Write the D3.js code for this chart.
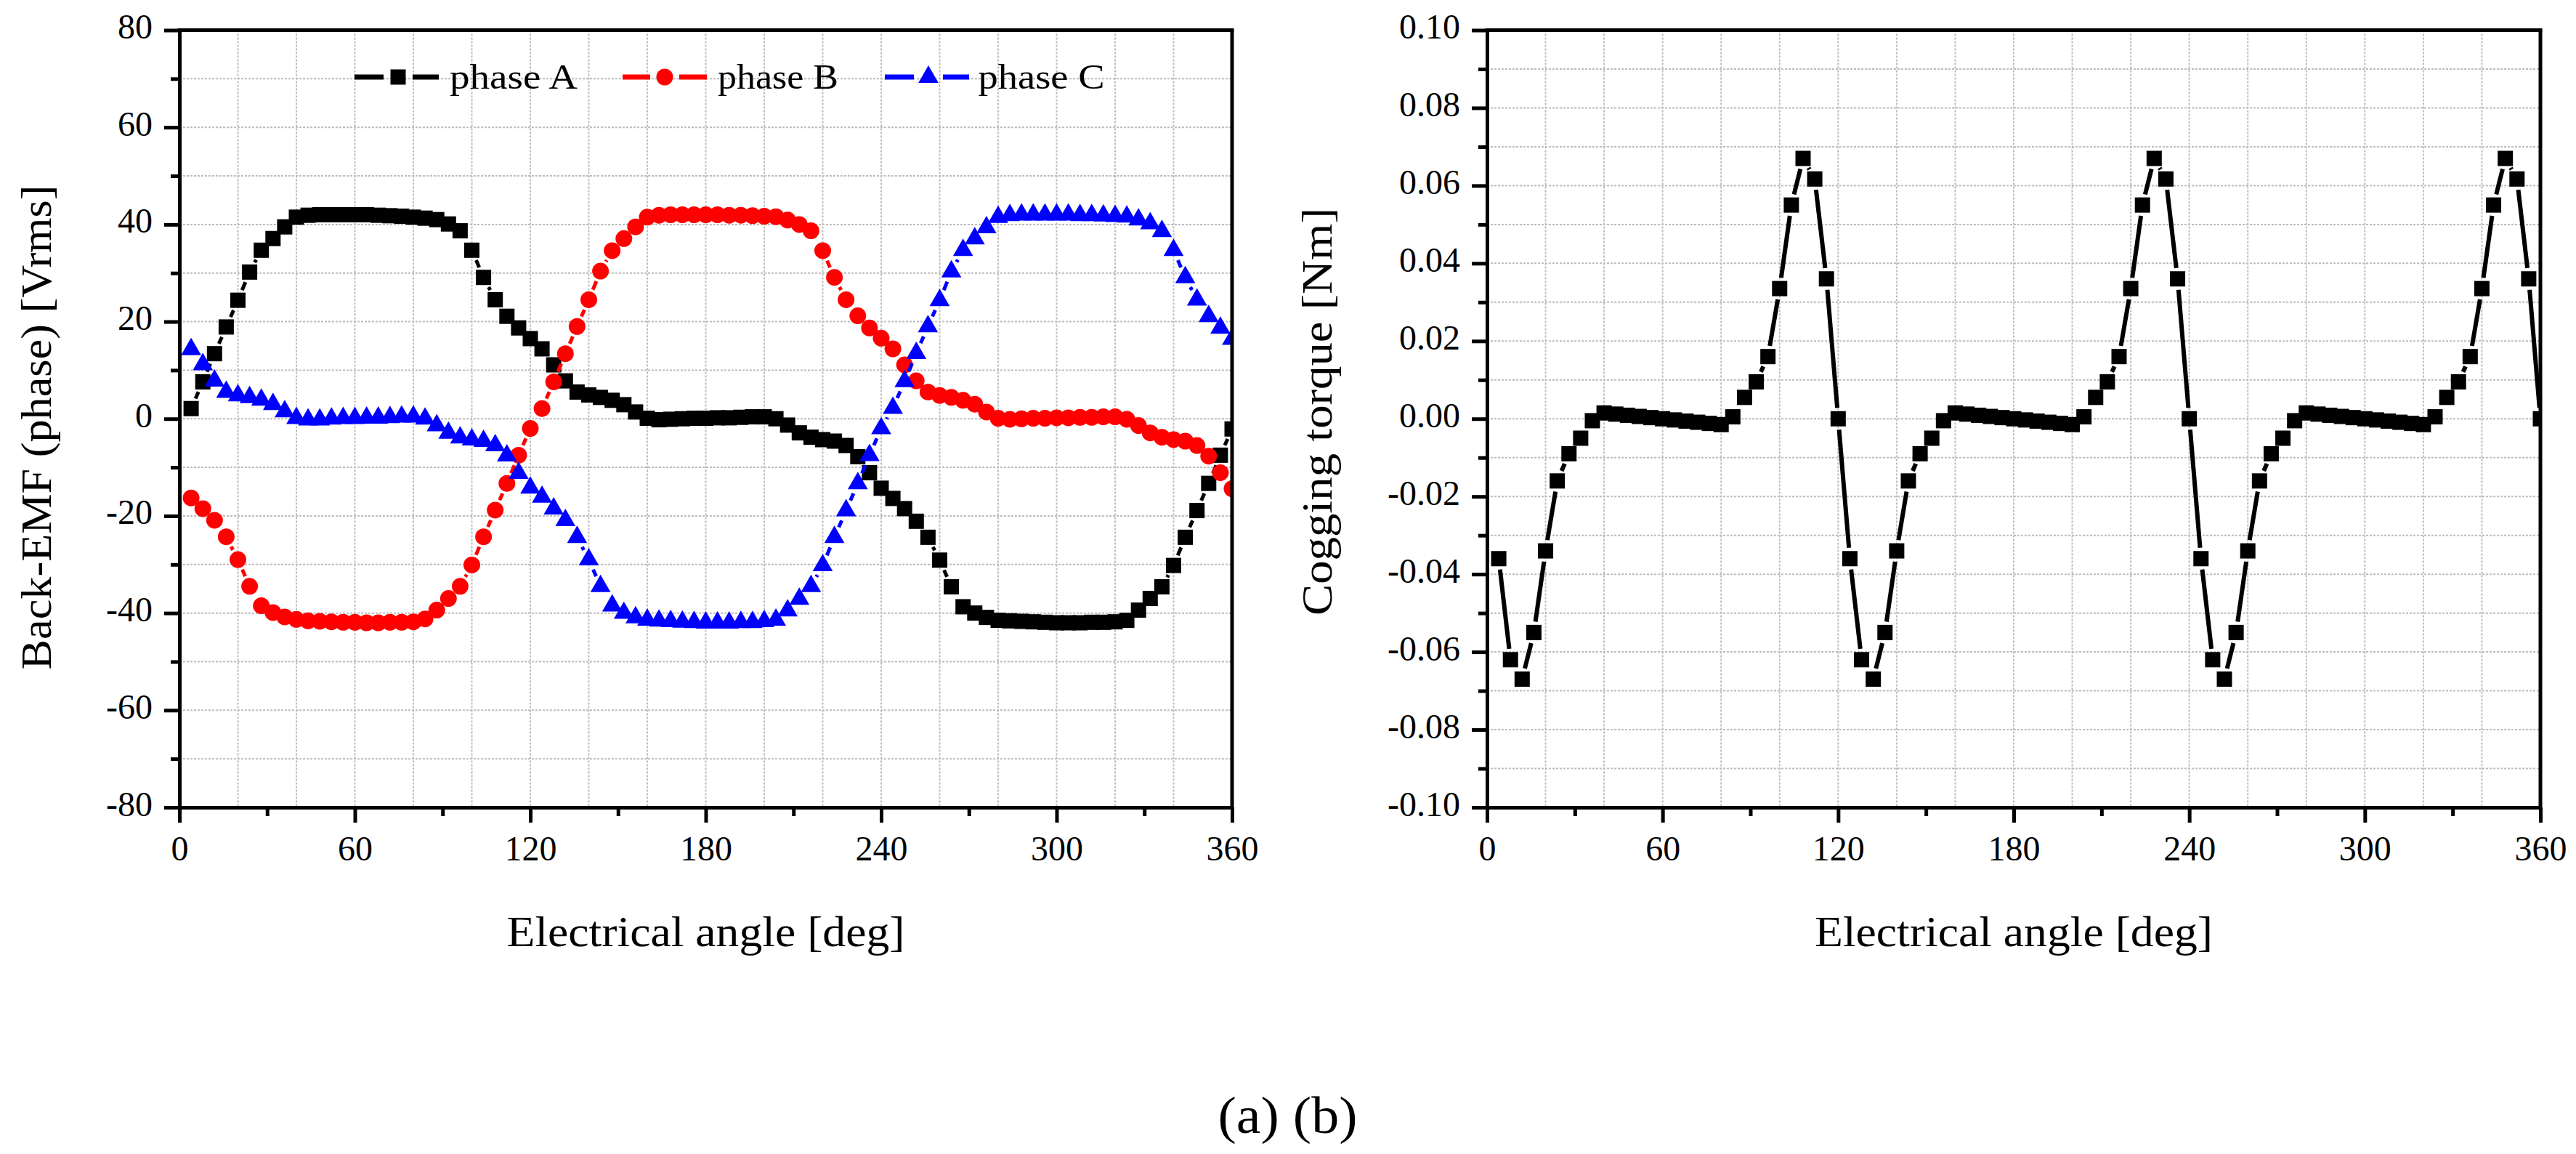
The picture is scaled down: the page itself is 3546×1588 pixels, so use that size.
<!DOCTYPE html>
<html>
<head>
<meta charset="utf-8">
<script src="https://cdn.jsdelivr.net/npm/d3@7"></script>
<style>
html,body{margin:0;padding:0;background:#ffffff;}
svg{display:block;}
</style>
</head>
<body>
<svg id="chart" width="3546" height="1588"></svg>
<script>
// ---------------- DATA ----------------
const angleDeg = [4,8,12,16,20,24,28,32,36,40,44,48,52,56,60,64,68,72,76,80,84,88,92,96,100,104,108,112,116,120,
  124,128,132,136,140,144,148,152,156,160,164,168,172,176,180,184,188,192,196,200,204,208,212,216,220,224,228,232,236,240,
  244,248,252,256,260,264,268,272,276,280,284,288,292,296,300,304,308,312,316,320,324,328,332,336,340,344,348,352,356,360];

const phaseA = [2.1,7.6,13.4,18.9,24.4,30.2,34.7,37.1,39.5,41.5,41.9,42.0,42.0,42.0,42.0,42.0,41.9,41.8,41.7,41.5,41.3,41.0,40.1,38.7,34.7,29.1,24.5,21.1,18.7,16.5,
  14.4,11.1,7.8,5.5,4.9,4.4,3.8,2.9,1.4,0.1,-0.2,-0.1,0.0,0.1,0.1,0.2,0.2,0.3,0.4,0.4,0.0,-1.3,-2.9,-3.8,-4.3,-4.6,-5.5,-7.8,-11.1,-14.3,
  -16.4,-18.5,-21.1,-24.4,-29.1,-34.6,-38.7,-40.0,-40.9,-41.5,-41.6,-41.7,-41.8,-41.9,-42.0,-42.0,-42.0,-41.9,-41.9,-41.8,-41.5,-39.4,-37.0,-34.6,-30.2,-24.4,-18.9,-13.3,-7.5,-2.1];

const phaseB = [-16.3,-18.5,-20.9,-24.3,-29.0,-34.5,-38.5,-39.9,-40.8,-41.3,-41.6,-41.7,-41.8,-41.9,-41.9,-42.0,-42.0,-41.9,-41.9,-41.8,-41.2,-39.4,-37.0,-34.5,-30.1,-24.3,-18.8,-13.3,-7.5,-2.0,
  2.1,7.6,13.4,19.0,24.5,30.4,34.6,37.1,39.5,41.5,41.9,42.0,42.0,42.0,42.0,42.0,41.9,41.9,41.8,41.7,41.6,40.9,40.0,38.7,34.6,29.1,24.5,21.2,18.7,16.6,
  14.4,11.1,7.8,5.5,4.8,4.4,3.8,3.0,1.4,0.1,-0.1,0.0,0.1,0.1,0.2,0.2,0.3,0.3,0.4,0.4,-0.1,-1.4,-2.9,-3.8,-4.3,-4.6,-5.5,-7.7,-11.1,-14.4];

const phaseC = [14.3,11.2,7.8,5.5,4.8,4.4,3.9,3.0,1.5,0.1,-0.2,-0.2,0.0,0.1,0.1,0.2,0.2,0.3,0.4,0.4,0.0,-1.4,-2.9,-3.9,-4.3,-4.6,-5.5,-7.6,-11.2,-14.2,
  -16.1,-18.5,-20.9,-24.4,-29.0,-34.5,-38.5,-40.0,-40.9,-41.4,-41.6,-41.7,-41.8,-41.9,-42.0,-42.0,-42.0,-41.9,-41.9,-41.7,-41.4,-39.5,-37.1,-34.5,-30.2,-24.4,-18.9,-13.3,-7.5,-2.0,
  2.2,7.7,13.5,19.0,24.4,30.3,34.7,37.1,39.4,41.5,41.9,42.0,42.0,42.0,42.0,42.0,41.9,41.9,41.8,41.7,41.6,41.0,40.2,38.6,34.7,29.1,24.5,21.1,18.7,16.4];

const cogging = [-0.036,-0.062,-0.067,-0.055,-0.034,-0.016,-0.009,-0.005,-0.0005,0.0015,0.0012,0.0009,0.0006,0.0003,0.0,-0.0003,-0.0006,-0.0009,-0.0012,-0.0015,0.0005,0.0055,0.0095,0.016,0.0335,0.055,0.067,0.0617,0.036,0.0,
  -0.036,-0.062,-0.067,-0.055,-0.034,-0.016,-0.009,-0.005,-0.0005,0.0015,0.0012,0.0009,0.0006,0.0003,0.0,-0.0003,-0.0006,-0.0009,-0.0012,-0.0015,0.0005,0.0055,0.0095,0.016,0.0335,0.055,0.067,0.0617,0.036,0.0,
  -0.036,-0.062,-0.067,-0.055,-0.034,-0.016,-0.009,-0.005,-0.0005,0.0015,0.0012,0.0009,0.0006,0.0003,0.0,-0.0003,-0.0006,-0.0009,-0.0012,-0.0015,0.0005,0.0055,0.0095,0.016,0.0335,0.055,0.067,0.0617,0.036,0.0];

const xTickValues = [0,60,120,180,240,300,360];
const xMinorValues = [30,90,150,210,270,330];
const emfTickValues = [-80,-60,-40,-20,0,20,40,60,80];
const emfMinorValues = [-70,-50,-30,-10,10,30,50,70];
const torqueTickValues = [-0.10,-0.08,-0.06,-0.04,-0.02,0.00,0.02,0.04,0.06,0.08,0.10];
const torqueMinorValues = [-0.09,-0.07,-0.05,-0.03,-0.01,0.01,0.03,0.05,0.07,0.09];
const legendLabels = ["phase A","phase B","phase C"];
const xTitle = "Electrical angle [deg]";
const emfTitle = "Back-EMF (phase) [Vrms]";
const torqueTitle = "Cogging torque [Nm]";
const caption = "(a) (b)";

// ---------------- DRAWING ----------------
const FONT = "'Liberation Serif','Times New Roman',serif";
const svg = d3.select("#chart");
const GRID = "#bdbdbd";

function fmtTorque(d){ return (d < -1e-9 ? "-" : "") + Math.abs(d).toFixed(2); }
function fmtEmf(d){ return String(d); }

function makePanel(cfg){
  const g = svg.append("g");
  const x = d3.scaleLinear().domain([0,360]).range([cfg.left, cfg.right]);
  const y = d3.scaleLinear().domain(cfg.yDomain).range([cfg.bottom, cfg.top]);

  // grid
  const gx = x.ticks(12), gy = y.ticks(cfg.gridCount);
  g.append("g").selectAll("line").data(gx).join("line")
    .attr("x1", d=>x(d)).attr("x2", d=>x(d)).attr("y1", cfg.top).attr("y2", cfg.bottom)
    .attr("stroke", GRID).attr("stroke-width", 2).attr("stroke-dasharray", "3,2");
  g.append("g").selectAll("line").data(gy).join("line")
    .attr("x1", cfg.left).attr("x2", cfg.right).attr("y1", d=>y(d)).attr("y2", d=>y(d))
    .attr("stroke", GRID).attr("stroke-width", 2).attr("stroke-dasharray", "3,2");

  // clip
  const clipId = "clip" + cfg.id;
  svg.append("defs").append("clipPath").attr("id", clipId).append("rect")
    .attr("x", cfg.left).attr("y", cfg.top).attr("width", cfg.right-cfg.left).attr("height", cfg.bottom-cfg.top);
  const plot = g.append("g").attr("clip-path", `url(#${clipId})`);

  cfg.series.forEach(s => {
    const pts = angleDeg.map((a,i)=>[x(a), y(s.values[i])]);
    const segs = [];
    for (let i=0;i<pts.length-1;i++){
      const [x1,y1]=pts[i], [x2,y2]=pts[i+1];
      const L = Math.hypot(x2-x1,y2-y1);
      if (L > 2*s.gap + 2){
        const ux=(x2-x1)/L, uy=(y2-y1)/L;
        segs.push([x1+ux*s.gap, y1+uy*s.gap, x2-ux*s.gap, y2-uy*s.gap]);
      }
    }
    plot.append("g").selectAll("line").data(segs).join("line")
      .attr("x1",d=>d[0]).attr("y1",d=>d[1]).attr("x2",d=>d[2]).attr("y2",d=>d[3])
      .attr("stroke", s.color).attr("stroke-width", s.lineWidth).attr("stroke-linecap","butt");
    plot.append("g").selectAll("path").data(pts).join("path")
      .attr("transform", d=>`translate(${d[0]},${d[1]})`)
      .attr("d", d3.symbol().type(s.symbol).size(s.size)())
      .attr("fill", s.color);
  });

  // axes
  const ax = d3.axisBottom(x).tickValues(xTickValues).tickSize(21).tickSizeOuter(0).tickFormat(d=>String(d));
  const axM = d3.axisBottom(x).tickValues(xMinorValues).tickSize(12).tickSizeOuter(0).tickFormat("");
  const ay = d3.axisLeft(y).tickValues(cfg.yTicks).tickSize(21).tickSizeOuter(0).tickFormat(cfg.fmt);
  const ayM = d3.axisLeft(y).tickValues(cfg.yMinor).tickSize(12).tickSizeOuter(0).tickFormat("");

  function styleAxis(sel){
    sel.selectAll("path.domain").attr("stroke","#000").attr("stroke-width",5);
    sel.selectAll(".tick line").attr("stroke","#000").attr("stroke-width",5);
    sel.selectAll(".tick text").attr("fill","#000").style("font-family",FONT).style("font-size","48px");
  }
  const gxM = g.append("g").attr("transform",`translate(0,${cfg.bottom})`).call(axM); styleAxis(gxM);
  const gxA = g.append("g").attr("transform",`translate(0,${cfg.bottom})`).call(ax); styleAxis(gxA);
  gxA.selectAll(".tick text").attr("y",73).attr("dy",null);
  const gyM = g.append("g").attr("transform",`translate(${cfg.left},0)`).call(ayM); styleAxis(gyM);
  const gyA = g.append("g").attr("transform",`translate(${cfg.left},0)`).call(ay); styleAxis(gyA);
  gyA.selectAll(".tick text").attr("x",-37).attr("dy",null).attr("y",11);

  // frame top/right
  g.append("line").attr("x1",cfg.left-2.5).attr("x2",cfg.right+2.5).attr("y1",cfg.top).attr("y2",cfg.top)
    .attr("stroke","#000").attr("stroke-width",5);
  g.append("line").attr("x1",cfg.right).attr("x2",cfg.right).attr("y1",cfg.top).attr("y2",cfg.bottom+2.5)
    .attr("stroke","#000").attr("stroke-width",5);

  // titles
  g.append("text").attr("x",(cfg.left+cfg.right)/2).attr("y",1302)
    .attr("text-anchor","middle").style("font-family",FONT).style("font-size","60px")
    .attr("textLength",548).attr("lengthAdjust","spacingAndGlyphs").text(xTitle);
  g.append("text").attr("transform",`translate(${cfg.yTitleX},${cfg.yTitleCY}) rotate(-90)`)
    .attr("text-anchor","middle").style("font-family",FONT).style("font-size","60px")
    .attr("textLength",cfg.yTitleLen).attr("lengthAdjust","spacingAndGlyphs").text(cfg.yTitle);
  return {x,y,g};
}

const sq = d3.symbolSquare, ci = d3.symbolCircle, tr = d3.symbolTriangle;
const emfSeries = [
  {values: phaseA, color:"#000000", symbol:sq, size:21*21, gap:15, lineWidth:5},
  {values: phaseB, color:"#ff0000", symbol:ci, size:Math.PI*11.5*11.5, gap:15, lineWidth:5},
  {values: phaseC, color:"#0000ff", symbol:tr, size:332, gap:15, lineWidth:5}
];

const left = makePanel({
  id:"L", left:247, right:1696, top:41.5, bottom:1111,
  yDomain:[-80,80], gridCount:16, yTicks:emfTickValues, yMinor:emfMinorValues, fmt:fmtEmf,
  series: emfSeries, yTitle: emfTitle, yTitleX:70, yTitleCY:588, yTitleLen:667
});

const right = makePanel({
  id:"R", left:2047, right:3497, top:41.5, bottom:1111,
  yDomain:[-0.1,0.1], gridCount:20, yTicks:torqueTickValues, yMinor:torqueMinorValues, fmt:fmtTorque,
  series: [{values: cogging, color:"#000000", symbol:sq, size:21*21, gap:15, lineWidth:6}],
  yTitle: torqueTitle, yTitleX:1833, yTitleCY:566.5, yTitleLen:561
});

// legend (left panel)
const legendPos = [
  {x1:488, x2:604, mx:548, tx:619, len:176},
  {x1:857, x2:973, mx:915, tx:988, len:166},
  {x1:1218, x2:1334, mx:1278, tx:1346.5, len:174}
];
const lg = svg.append("g");
legendLabels.forEach((lab,i)=>{
  const p = legendPos[i], s = emfSeries[i], ly = 106;
  lg.append("line").attr("x1",p.x1).attr("x2",p.mx-20).attr("y1",ly).attr("y2",ly)
    .attr("stroke",s.color).attr("stroke-width",7);
  lg.append("line").attr("x1",p.mx+20).attr("x2",p.x2).attr("y1",ly).attr("y2",ly)
    .attr("stroke",s.color).attr("stroke-width",7);
  lg.append("path").attr("transform",`translate(${p.mx},${ly})`)
    .attr("d", d3.symbol().type(s.symbol).size(s.size)()).attr("fill",s.color);
  lg.append("text").attr("x",p.tx).attr("y",121.5).style("font-family",FONT).style("font-size","48px")
    .attr("textLength",p.len).attr("lengthAdjust","spacingAndGlyphs").text(lab);
});

// caption
svg.append("text").attr("x",1772.5).attr("y",1559).attr("text-anchor","middle")
  .style("font-family",FONT).style("font-size","72px")
  .attr("textLength",192).attr("lengthAdjust","spacingAndGlyphs").text(caption);
</script>
</body>
</html>
